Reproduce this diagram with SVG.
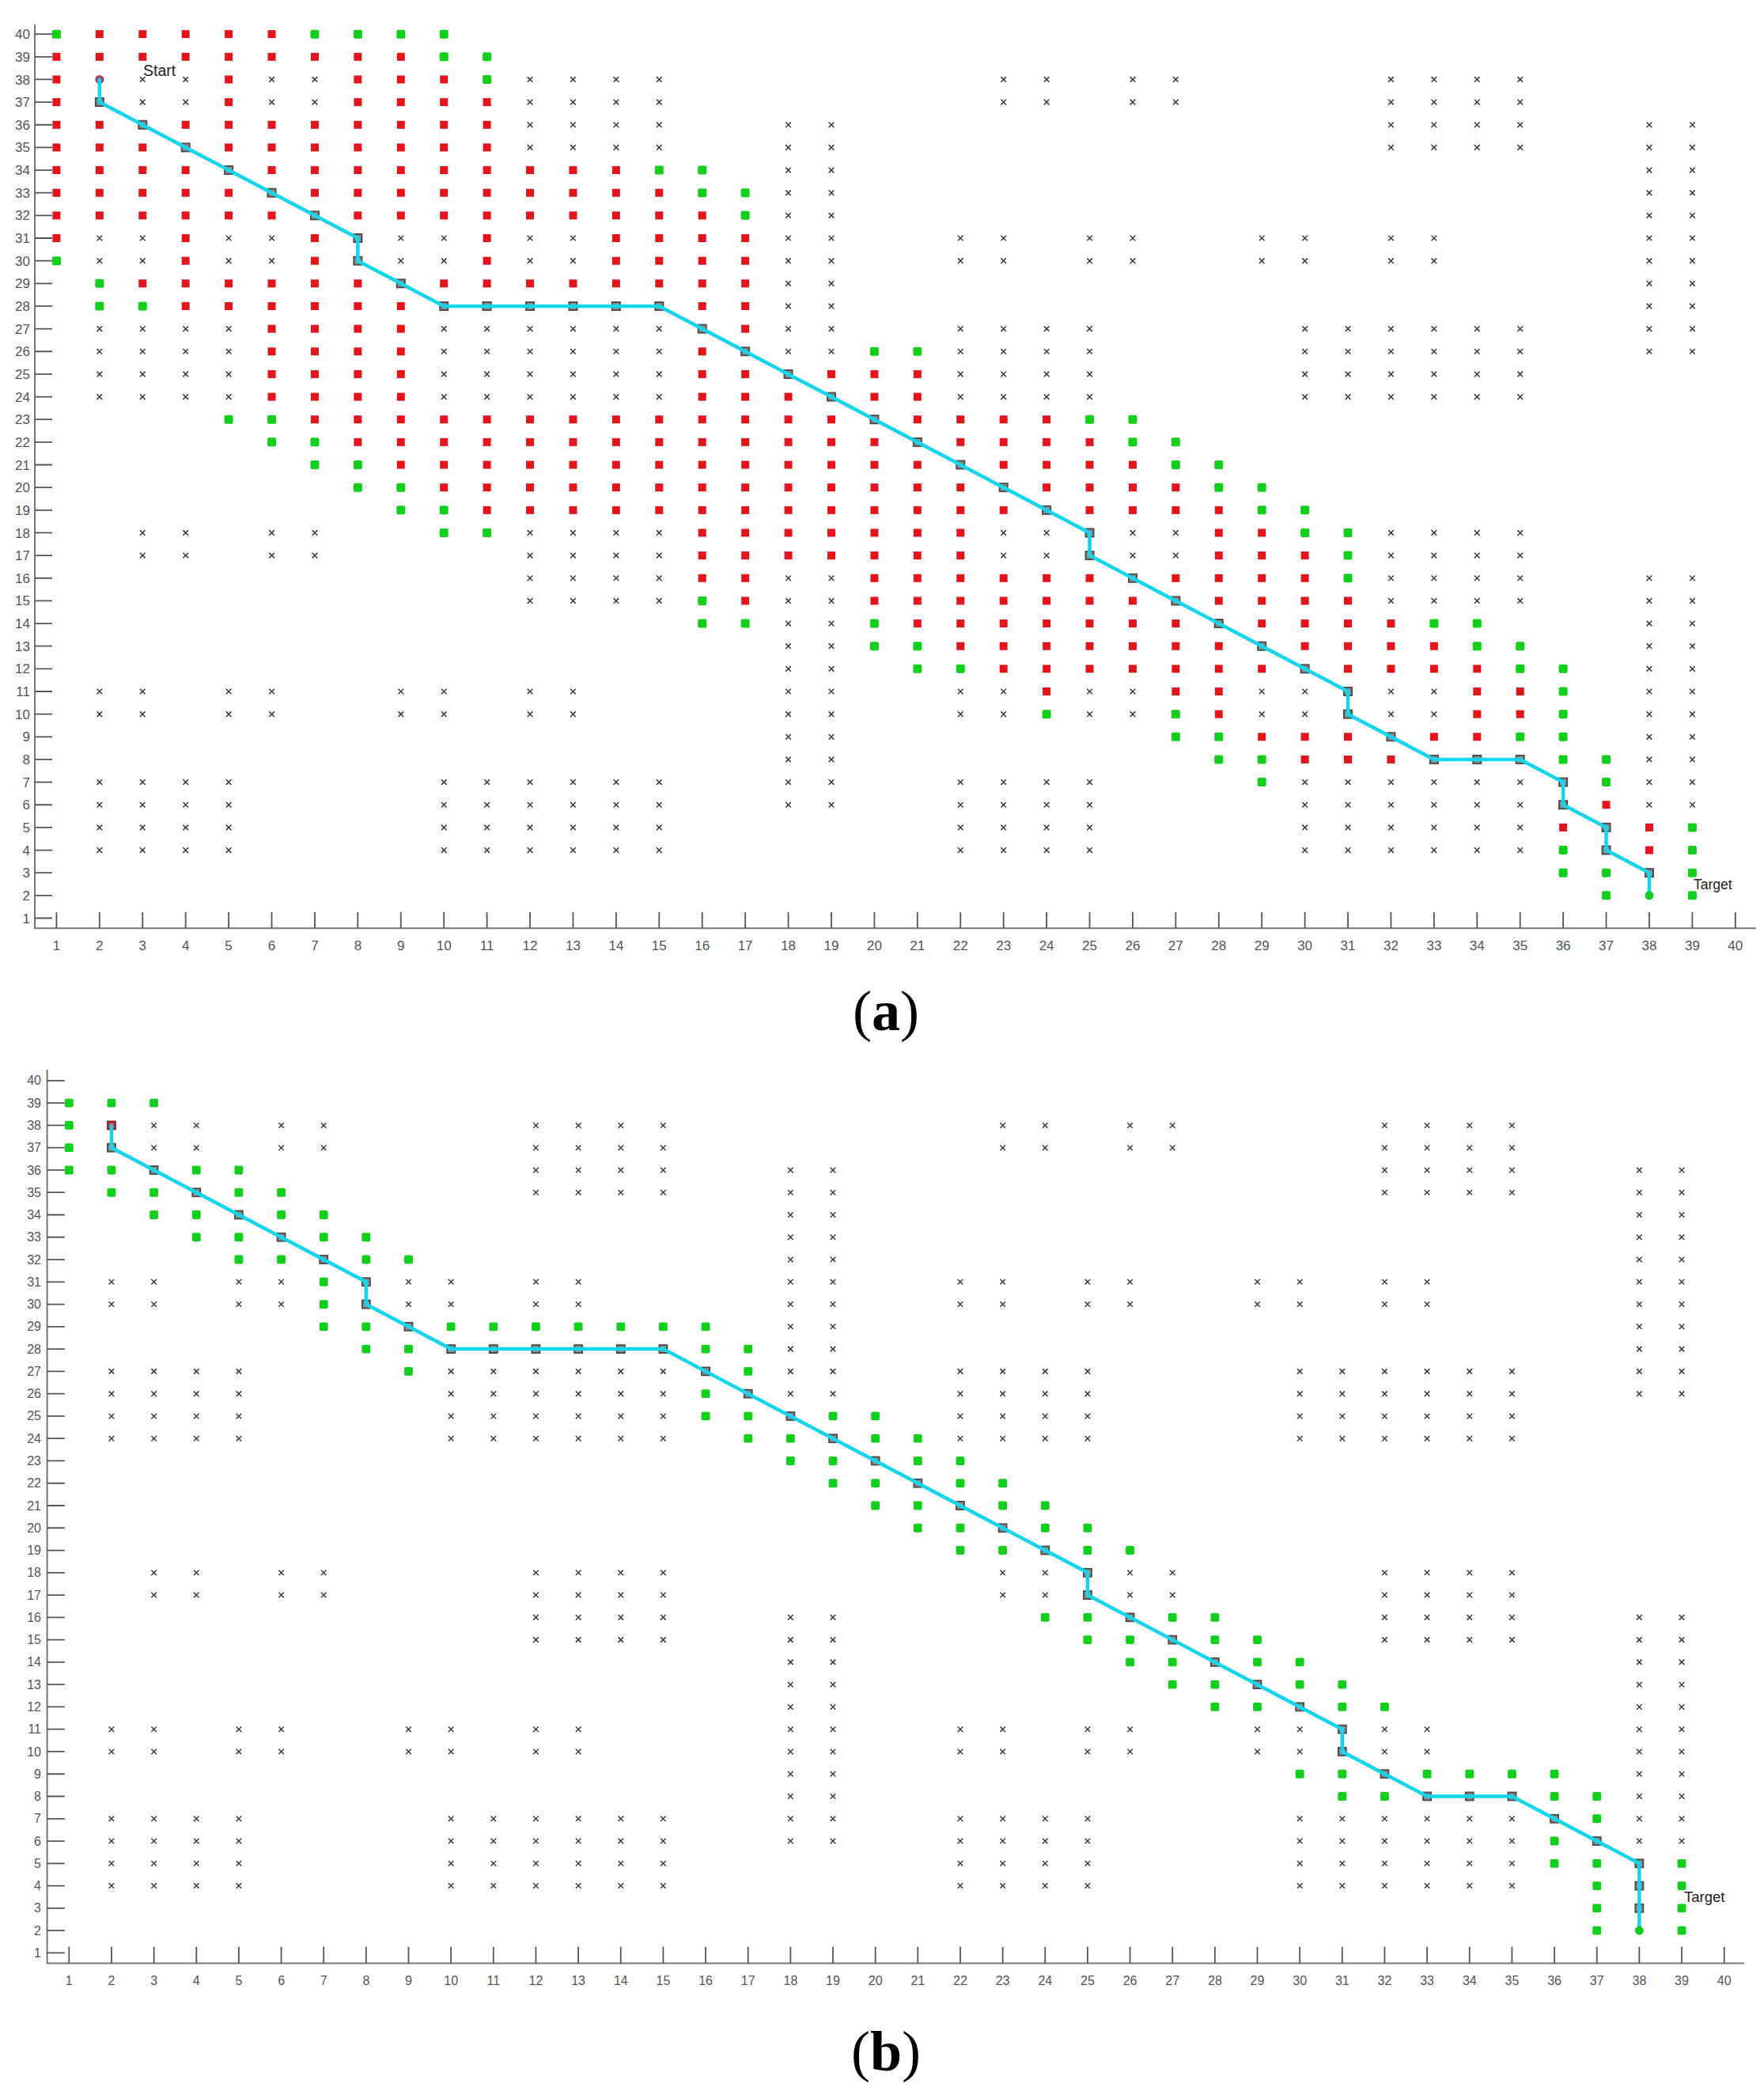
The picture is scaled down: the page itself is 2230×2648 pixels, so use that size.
<svg xmlns="http://www.w3.org/2000/svg" width="2230" height="2648" viewBox="0 0 2230 2648">
<style>
.tl{font-family:"Liberation Sans",Arial,sans-serif;font-size:17px;fill:#555}
.tlb{font-family:"Liberation Sans",Arial,sans-serif;font-size:16px;fill:#555}
.tx{text-anchor:middle}
.ty{text-anchor:end}
.ax{fill:none;stroke:#777;stroke-width:2}
.tk{fill:none;stroke:#555;stroke-width:1.8}
.route{fill:none;stroke:#13d6ec;stroke-width:4.5;stroke-linejoin:round;stroke-linecap:round}
.cap{font-family:"Liberation Serif","Times New Roman",serif;font-size:72px;fill:#000;text-anchor:middle}
.lbl{font-family:"Liberation Sans",Arial,sans-serif;fill:#222}
</style>
<defs>
<g id="R" transform="scale(0.018376,0.034904)"><rect x="-5" y="-5" width="10" height="10" fill="#e3151b"/></g>
<g id="G" transform="scale(0.018376,0.034904)"><rect x="-5.5" y="-5.5" width="11" height="11" rx="2" fill="#12cf1c"/></g>
<g id="X" transform="scale(0.018376,0.034904)"><path d="M-3.3-3.3L3.3 3.3M-3.3 3.3L3.3-3.3" stroke="#3c3c3c" stroke-width="1.5" fill="none"/></g>
<g id="P" transform="scale(0.018376,0.034904)"><rect x="-5" y="-5" width="10" height="10" fill="#8f8f8f" stroke="#4d4d4d" stroke-width="2"/></g>
<g id="S" transform="scale(0.018376,0.034904)"><circle r="5.5" fill="#a33a66"/></g>
<g id="S2" transform="scale(0.018376,0.034904)"><rect x="-5" y="-5" width="10" height="10" fill="#d8323c" stroke="#7a2a2a" stroke-width="2"/></g>
<g id="T" transform="scale(0.018376,0.034904)"><circle r="5.5" fill="#12cf1c"/></g>
<g id="oA"><use href="#X" x="3"/><use href="#X" x="4"/><use href="#X" x="6"/><use href="#X" x="7"/><use href="#X" x="12"/><use href="#X" x="13"/><use href="#X" x="14"/><use href="#X" x="15"/><use href="#X" x="23"/><use href="#X" x="24"/><use href="#X" x="26"/><use href="#X" x="27"/><use href="#X" x="32"/><use href="#X" x="33"/><use href="#X" x="34"/><use href="#X" x="35"/></g>
<g id="oB"><use href="#X" x="12"/><use href="#X" x="13"/><use href="#X" x="14"/><use href="#X" x="15"/><use href="#X" x="18"/><use href="#X" x="19"/><use href="#X" x="32"/><use href="#X" x="33"/><use href="#X" x="34"/><use href="#X" x="35"/><use href="#X" x="38"/><use href="#X" x="39"/></g>
<g id="oC"><use href="#X" x="18"/><use href="#X" x="19"/><use href="#X" x="38"/><use href="#X" x="39"/></g>
<g id="oD"><use href="#X" x="2"/><use href="#X" x="3"/><use href="#X" x="5"/><use href="#X" x="6"/><use href="#X" x="9"/><use href="#X" x="10"/><use href="#X" x="12"/><use href="#X" x="13"/><use href="#X" x="18"/><use href="#X" x="19"/><use href="#X" x="22"/><use href="#X" x="23"/><use href="#X" x="25"/><use href="#X" x="26"/><use href="#X" x="29"/><use href="#X" x="30"/><use href="#X" x="32"/><use href="#X" x="33"/><use href="#X" x="38"/><use href="#X" x="39"/></g>
<g id="oF"><use href="#X" x="2"/><use href="#X" x="3"/><use href="#X" x="4"/><use href="#X" x="5"/><use href="#X" x="10"/><use href="#X" x="11"/><use href="#X" x="12"/><use href="#X" x="13"/><use href="#X" x="14"/><use href="#X" x="15"/><use href="#X" x="22"/><use href="#X" x="23"/><use href="#X" x="24"/><use href="#X" x="25"/><use href="#X" x="30"/><use href="#X" x="31"/><use href="#X" x="32"/><use href="#X" x="33"/><use href="#X" x="34"/><use href="#X" x="35"/></g>
<g id="oE"><use href="#oF"/><use href="#X" x="18"/><use href="#X" x="19"/><use href="#X" x="38"/><use href="#X" x="39"/></g>
<g id="oHalf"><use href="#oA" y="38"/><use href="#oA" y="37"/><use href="#oB" y="36"/><use href="#oB" y="35"/><use href="#oC" y="34"/><use href="#oC" y="33"/><use href="#oC" y="32"/><use href="#oD" y="31"/><use href="#oD" y="30"/><use href="#oC" y="29"/><use href="#oC" y="28"/><use href="#oE" y="27"/><use href="#oE" y="26"/><use href="#oF" y="25"/><use href="#oF" y="24"/></g>
<g id="obs"><use href="#oHalf"/><use href="#oHalf" y="-20"/></g>
<g id="pn"><use href="#P" x="2" y="37"/><use href="#P" x="3" y="36"/><use href="#P" x="4" y="35"/><use href="#P" x="5" y="34"/><use href="#P" x="6" y="33"/><use href="#P" x="7" y="32"/><use href="#P" x="8" y="31"/><use href="#P" x="8" y="30"/><use href="#P" x="9" y="29"/><use href="#P" x="10" y="28"/><use href="#P" x="11" y="28"/><use href="#P" x="12" y="28"/><use href="#P" x="13" y="28"/><use href="#P" x="14" y="28"/><use href="#P" x="15" y="28"/><use href="#P" x="16" y="27"/><use href="#P" x="17" y="26"/><use href="#P" x="18" y="25"/><use href="#P" x="19" y="24"/><use href="#P" x="20" y="23"/><use href="#P" x="21" y="22"/><use href="#P" x="22" y="21"/><use href="#P" x="23" y="20"/><use href="#P" x="24" y="19"/><use href="#P" x="25" y="18"/><use href="#P" x="25" y="17"/><use href="#P" x="26" y="16"/><use href="#P" x="27" y="15"/><use href="#P" x="28" y="14"/><use href="#P" x="29" y="13"/><use href="#P" x="30" y="12"/><use href="#P" x="31" y="11"/><use href="#P" x="31" y="10"/><use href="#P" x="32" y="9"/><use href="#P" x="33" y="8"/><use href="#P" x="34" y="8"/><use href="#P" x="35" y="8"/><use href="#P" x="36" y="7"/></g>
</defs>
<rect width="2230" height="2648" fill="#fff"/>

<!-- Panel (a) -->
<g id="panel-a">
<path class="ax" d="M44 31V1173.3H2220"/>
<g transform="matrix(54.42 0 0 -28.65 17 1189.15)">
<path class="tk" vector-effect="non-scaling-stroke" d="M.496 1H.9M.496 2H.9M.496 3H.9M.496 4H.9M.496 5H.9M.496 6H.9M.496 7H.9M.496 8H.9M.496 9H.9M.496 10H.9M.496 11H.9M.496 12H.9M.496 13H.9M.496 14H.9M.496 15H.9M.496 16H.9M.496 17H.9M.496 18H.9M.496 19H.9M.496 20H.9M.496 21H.9M.496 22H.9M.496 23H.9M.496 24H.9M.496 25H.9M.496 26H.9M.496 27H.9M.496 28H.9M.496 29H.9M.496 30H.9M.496 31H.9M.496 32H.9M.496 33H.9M.496 34H.9M.496 35H.9M.496 36H.9M.496 37H.9M.496 38H.9M.496 39H.9M.496 40H.9M1 .553V1.262M2 .553V1.262M3 .553V1.262M4 .553V1.262M5 .553V1.262M6 .553V1.262M7 .553V1.262M8 .553V1.262M9 .553V1.262M10 .553V1.262M11 .553V1.262M12 .553V1.262M13 .553V1.262M14 .553V1.262M15 .553V1.262M16 .553V1.262M17 .553V1.262M18 .553V1.262M19 .553V1.262M20 .553V1.262M21 .553V1.262M22 .553V1.262M23 .553V1.262M24 .553V1.262M25 .553V1.262M26 .553V1.262M27 .553V1.262M28 .553V1.262M29 .553V1.262M30 .553V1.262M31 .553V1.262M32 .553V1.262M33 .553V1.262M34 .553V1.262M35 .553V1.262M36 .553V1.262M37 .553V1.262M38 .553V1.262M39 .553V1.262M40 .553V1.262"/>
<use href="#obs"/>
<g id="sets-a">
<g transform="translate(0 40)"><use href="#G" x="1"/><use href="#R" x="2"/><use href="#R" x="3"/><use href="#R" x="4"/><use href="#R" x="5"/><use href="#R" x="6"/><use href="#G" x="7"/><use href="#G" x="8"/><use href="#G" x="9"/><use href="#G" x="10"/></g>
<g transform="translate(0 39)"><use href="#R" x="1"/><use href="#R" x="2"/><use href="#R" x="3"/><use href="#R" x="4"/><use href="#R" x="5"/><use href="#R" x="6"/><use href="#R" x="7"/><use href="#R" x="8"/><use href="#R" x="9"/><use href="#G" x="10"/><use href="#G" x="11"/></g>
<g transform="translate(0 38)"><use href="#R" x="1"/><use href="#R" x="5"/><use href="#R" x="8"/><use href="#R" x="9"/><use href="#R" x="10"/><use href="#G" x="11"/></g>
<g transform="translate(0 37)"><use href="#R" x="1"/><use href="#R" x="5"/><use href="#R" x="8"/><use href="#R" x="9"/><use href="#R" x="10"/><use href="#R" x="11"/></g>
<g transform="translate(0 36)"><use href="#R" x="1"/><use href="#R" x="2"/><use href="#R" x="4"/><use href="#R" x="5"/><use href="#R" x="6"/><use href="#R" x="7"/><use href="#R" x="8"/><use href="#R" x="9"/><use href="#R" x="10"/><use href="#R" x="11"/></g>
<g transform="translate(0 35)"><use href="#R" x="1"/><use href="#R" x="2"/><use href="#R" x="3"/><use href="#R" x="5"/><use href="#R" x="6"/><use href="#R" x="7"/><use href="#R" x="8"/><use href="#R" x="9"/><use href="#R" x="10"/><use href="#R" x="11"/></g>
<g transform="translate(0 34)"><use href="#R" x="1"/><use href="#R" x="2"/><use href="#R" x="3"/><use href="#R" x="4"/><use href="#R" x="6"/><use href="#R" x="7"/><use href="#R" x="8"/><use href="#R" x="9"/><use href="#R" x="10"/><use href="#R" x="11"/><use href="#R" x="12"/><use href="#R" x="13"/><use href="#R" x="14"/><use href="#G" x="15"/><use href="#G" x="16"/></g>
<g transform="translate(0 33)"><use href="#R" x="1"/><use href="#R" x="2"/><use href="#R" x="3"/><use href="#R" x="4"/><use href="#R" x="5"/><use href="#R" x="7"/><use href="#R" x="8"/><use href="#R" x="9"/><use href="#R" x="10"/><use href="#R" x="11"/><use href="#R" x="12"/><use href="#R" x="13"/><use href="#R" x="14"/><use href="#R" x="15"/><use href="#G" x="16"/><use href="#G" x="17"/></g>
<g transform="translate(0 32)"><use href="#R" x="1"/><use href="#R" x="2"/><use href="#R" x="3"/><use href="#R" x="4"/><use href="#R" x="5"/><use href="#R" x="6"/><use href="#R" x="8"/><use href="#R" x="9"/><use href="#R" x="10"/><use href="#R" x="11"/><use href="#R" x="12"/><use href="#R" x="13"/><use href="#R" x="14"/><use href="#R" x="15"/><use href="#R" x="16"/><use href="#G" x="17"/></g>
<g transform="translate(0 31)"><use href="#R" x="1"/><use href="#R" x="4"/><use href="#R" x="7"/><use href="#R" x="11"/><use href="#R" x="14"/><use href="#R" x="15"/><use href="#R" x="16"/><use href="#R" x="17"/></g>
<g transform="translate(0 30)"><use href="#G" x="1"/><use href="#R" x="4"/><use href="#R" x="7"/><use href="#R" x="11"/><use href="#R" x="14"/><use href="#R" x="15"/><use href="#R" x="16"/><use href="#R" x="17"/></g>
<g transform="translate(0 29)"><use href="#G" x="2"/><use href="#R" x="3"/><use href="#R" x="4"/><use href="#R" x="5"/><use href="#R" x="6"/><use href="#R" x="7"/><use href="#R" x="8"/><use href="#R" x="10"/><use href="#R" x="11"/><use href="#R" x="12"/><use href="#R" x="13"/><use href="#R" x="14"/><use href="#R" x="15"/><use href="#R" x="16"/><use href="#R" x="17"/></g>
<g transform="translate(0 28)"><use href="#G" x="2"/><use href="#G" x="3"/><use href="#R" x="4"/><use href="#R" x="5"/><use href="#R" x="6"/><use href="#R" x="7"/><use href="#R" x="8"/><use href="#R" x="9"/><use href="#R" x="16"/><use href="#R" x="17"/></g>
<g transform="translate(0 27)"><use href="#R" x="6"/><use href="#R" x="7"/><use href="#R" x="8"/><use href="#R" x="9"/><use href="#R" x="17"/></g>
<g transform="translate(0 26)"><use href="#R" x="6"/><use href="#R" x="7"/><use href="#R" x="8"/><use href="#R" x="9"/><use href="#R" x="16"/><use href="#G" x="20"/><use href="#G" x="21"/></g>
<g transform="translate(0 25)"><use href="#R" x="6"/><use href="#R" x="7"/><use href="#R" x="8"/><use href="#R" x="9"/><use href="#R" x="16"/><use href="#R" x="17"/><use href="#R" x="19"/><use href="#R" x="20"/><use href="#R" x="21"/></g>
<g transform="translate(0 24)"><use href="#R" x="6"/><use href="#R" x="7"/><use href="#R" x="8"/><use href="#R" x="9"/><use href="#R" x="16"/><use href="#R" x="17"/><use href="#R" x="18"/><use href="#R" x="20"/><use href="#R" x="21"/></g>
<g transform="translate(0 23)"><use href="#G" x="5"/><use href="#G" x="6"/><use href="#R" x="7"/><use href="#R" x="8"/><use href="#R" x="9"/><use href="#R" x="10"/><use href="#R" x="11"/><use href="#R" x="12"/><use href="#R" x="13"/><use href="#R" x="14"/><use href="#R" x="15"/><use href="#R" x="16"/><use href="#R" x="17"/><use href="#R" x="18"/><use href="#R" x="19"/><use href="#R" x="21"/><use href="#R" x="22"/><use href="#R" x="23"/><use href="#R" x="24"/><use href="#G" x="25"/><use href="#G" x="26"/></g>
<g transform="translate(0 22)"><use href="#G" x="6"/><use href="#G" x="7"/><use href="#R" x="8"/><use href="#R" x="9"/><use href="#R" x="10"/><use href="#R" x="11"/><use href="#R" x="12"/><use href="#R" x="13"/><use href="#R" x="14"/><use href="#R" x="15"/><use href="#R" x="16"/><use href="#R" x="17"/><use href="#R" x="18"/><use href="#R" x="19"/><use href="#R" x="20"/><use href="#R" x="22"/><use href="#R" x="23"/><use href="#R" x="24"/><use href="#R" x="25"/><use href="#G" x="26"/><use href="#G" x="27"/></g>
<g transform="translate(0 21)"><use href="#G" x="7"/><use href="#G" x="8"/><use href="#R" x="9"/><use href="#R" x="10"/><use href="#R" x="11"/><use href="#R" x="12"/><use href="#R" x="13"/><use href="#R" x="14"/><use href="#R" x="15"/><use href="#R" x="16"/><use href="#R" x="17"/><use href="#R" x="18"/><use href="#R" x="19"/><use href="#R" x="20"/><use href="#R" x="21"/><use href="#R" x="23"/><use href="#R" x="24"/><use href="#R" x="25"/><use href="#R" x="26"/><use href="#G" x="27"/><use href="#G" x="28"/></g>
<g transform="translate(0 20)"><use href="#G" x="8"/><use href="#G" x="9"/><use href="#R" x="10"/><use href="#R" x="11"/><use href="#R" x="12"/><use href="#R" x="13"/><use href="#R" x="14"/><use href="#R" x="15"/><use href="#R" x="16"/><use href="#R" x="17"/><use href="#R" x="18"/><use href="#R" x="19"/><use href="#R" x="20"/><use href="#R" x="21"/><use href="#R" x="22"/><use href="#R" x="24"/><use href="#R" x="25"/><use href="#R" x="26"/><use href="#R" x="27"/><use href="#G" x="28"/><use href="#G" x="29"/></g>
<g transform="translate(0 19)"><use href="#G" x="9"/><use href="#G" x="10"/><use href="#R" x="11"/><use href="#R" x="12"/><use href="#R" x="13"/><use href="#R" x="14"/><use href="#R" x="15"/><use href="#R" x="16"/><use href="#R" x="17"/><use href="#R" x="18"/><use href="#R" x="19"/><use href="#R" x="20"/><use href="#R" x="21"/><use href="#R" x="22"/><use href="#R" x="23"/><use href="#R" x="25"/><use href="#R" x="26"/><use href="#R" x="27"/><use href="#R" x="28"/><use href="#G" x="29"/><use href="#G" x="30"/></g>
<g transform="translate(0 18)"><use href="#G" x="10"/><use href="#G" x="11"/><use href="#R" x="16"/><use href="#R" x="17"/><use href="#R" x="18"/><use href="#R" x="19"/><use href="#R" x="20"/><use href="#R" x="21"/><use href="#R" x="22"/><use href="#R" x="28"/><use href="#R" x="29"/><use href="#G" x="30"/><use href="#G" x="31"/></g>
<g transform="translate(0 17)"><use href="#R" x="16"/><use href="#R" x="17"/><use href="#R" x="18"/><use href="#R" x="19"/><use href="#R" x="20"/><use href="#R" x="21"/><use href="#R" x="22"/><use href="#R" x="28"/><use href="#R" x="29"/><use href="#R" x="30"/><use href="#G" x="31"/></g>
<g transform="translate(0 16)"><use href="#R" x="16"/><use href="#R" x="17"/><use href="#R" x="20"/><use href="#R" x="21"/><use href="#R" x="22"/><use href="#R" x="23"/><use href="#R" x="24"/><use href="#R" x="25"/><use href="#R" x="27"/><use href="#R" x="28"/><use href="#R" x="29"/><use href="#R" x="30"/><use href="#G" x="31"/></g>
<g transform="translate(0 15)"><use href="#G" x="16"/><use href="#R" x="17"/><use href="#R" x="20"/><use href="#R" x="21"/><use href="#R" x="22"/><use href="#R" x="23"/><use href="#R" x="24"/><use href="#R" x="25"/><use href="#R" x="26"/><use href="#R" x="28"/><use href="#R" x="29"/><use href="#R" x="30"/><use href="#R" x="31"/></g>
<g transform="translate(0 14)"><use href="#G" x="16"/><use href="#G" x="17"/><use href="#G" x="20"/><use href="#R" x="21"/><use href="#R" x="22"/><use href="#R" x="23"/><use href="#R" x="24"/><use href="#R" x="25"/><use href="#R" x="26"/><use href="#R" x="27"/><use href="#R" x="29"/><use href="#R" x="30"/><use href="#R" x="31"/><use href="#R" x="32"/><use href="#G" x="33"/><use href="#G" x="34"/></g>
<g transform="translate(0 13)"><use href="#G" x="20"/><use href="#G" x="21"/><use href="#R" x="22"/><use href="#R" x="23"/><use href="#R" x="24"/><use href="#R" x="25"/><use href="#R" x="26"/><use href="#R" x="27"/><use href="#R" x="28"/><use href="#R" x="30"/><use href="#R" x="31"/><use href="#R" x="32"/><use href="#R" x="33"/><use href="#G" x="34"/><use href="#G" x="35"/></g>
<g transform="translate(0 12)"><use href="#G" x="21"/><use href="#G" x="22"/><use href="#R" x="23"/><use href="#R" x="24"/><use href="#R" x="25"/><use href="#R" x="26"/><use href="#R" x="27"/><use href="#R" x="28"/><use href="#R" x="29"/><use href="#R" x="31"/><use href="#R" x="32"/><use href="#R" x="33"/><use href="#R" x="34"/><use href="#G" x="35"/><use href="#G" x="36"/></g>
<g transform="translate(0 11)"><use href="#R" x="24"/><use href="#R" x="27"/><use href="#R" x="28"/><use href="#R" x="34"/><use href="#R" x="35"/><use href="#G" x="36"/></g>
<g transform="translate(0 10)"><use href="#G" x="24"/><use href="#G" x="27"/><use href="#R" x="28"/><use href="#R" x="34"/><use href="#R" x="35"/><use href="#G" x="36"/></g>
<g transform="translate(0 9)"><use href="#G" x="27"/><use href="#G" x="28"/><use href="#R" x="29"/><use href="#R" x="30"/><use href="#R" x="31"/><use href="#R" x="33"/><use href="#R" x="34"/><use href="#G" x="35"/><use href="#G" x="36"/></g>
<g transform="translate(0 8)"><use href="#G" x="28"/><use href="#G" x="29"/><use href="#R" x="30"/><use href="#R" x="31"/><use href="#R" x="32"/><use href="#G" x="36"/><use href="#G" x="37"/></g>
<g transform="translate(0 7)"><use href="#G" x="29"/><use href="#G" x="37"/></g>
<g transform="translate(0 6)"><use href="#R" x="37"/></g>
<g transform="translate(0 5)"><use href="#R" x="36"/><use href="#R" x="38"/><use href="#G" x="39"/></g>
<g transform="translate(0 4)"><use href="#G" x="36"/><use href="#R" x="38"/><use href="#G" x="39"/></g>
<g transform="translate(0 3)"><use href="#G" x="36"/><use href="#G" x="37"/><use href="#G" x="39"/></g>
<g transform="translate(0 2)"><use href="#G" x="37"/><use href="#G" x="39"/></g>
</g>
<g id="path-a">
<use href="#pn"/><use href="#P" x="36" y="6"/><use href="#P" x="37" y="5"/><use href="#P" x="37" y="4"/><use href="#P" x="38" y="3"/>
<use href="#S" x="2" y="38"/>
<polyline class="route" vector-effect="non-scaling-stroke" points="2,38 2,37 3,36 4,35 5,34 6,33 7,32 8,31 8,30 9,29 10,28 15,28 16,27 17,26 18,25 19,24 20,23 21,22 22,21 23,20 24,19 25,18 25,17 26,16 27,15 28,14 29,13 30,12 31,11 31,10 32,9 33,8 35,8 36,7 36,6 37,5 37,4 38,3 38,2"/>
<use href="#T" x="38" y="2"/>
</g>
</g>
<text class="lbl" x="181" y="96" font-size="19.5">Start</text>
<text class="lbl" x="2141" y="1124" font-size="17.5">Target</text>
<g class="tl tx">
<text x="71.4" y="1201">1</text><text x="125.8" y="1201">2</text><text x="180.2" y="1201">3</text><text x="234.7" y="1201">4</text><text x="289.1" y="1201">5</text><text x="343.5" y="1201">6</text><text x="397.9" y="1201">7</text><text x="452.4" y="1201">8</text><text x="506.8" y="1201">9</text><text x="561.2" y="1201">10</text><text x="615.6" y="1201">11</text><text x="670" y="1201">12</text><text x="724.5" y="1201">13</text><text x="778.9" y="1201">14</text><text x="833.3" y="1201">15</text><text x="887.7" y="1201">16</text><text x="942.1" y="1201">17</text><text x="996.6" y="1201">18</text><text x="1051" y="1201">19</text><text x="1105.4" y="1201">20</text><text x="1159.8" y="1201">21</text><text x="1214.2" y="1201">22</text><text x="1268.7" y="1201">23</text><text x="1323.1" y="1201">24</text><text x="1377.5" y="1201">25</text><text x="1431.9" y="1201">26</text><text x="1486.3" y="1201">27</text><text x="1540.8" y="1201">28</text><text x="1595.2" y="1201">29</text><text x="1649.6" y="1201">30</text><text x="1704" y="1201">31</text><text x="1758.4" y="1201">32</text><text x="1812.9" y="1201">33</text><text x="1867.3" y="1201">34</text><text x="1921.7" y="1201">35</text><text x="1976.1" y="1201">36</text><text x="2030.5" y="1201">37</text><text x="2085" y="1201">38</text><text x="2139.4" y="1201">39</text><text x="2193.8" y="1201">40</text>
</g>
<g class="tl ty">
<text x="38" y="1166.5">1</text><text x="38" y="1137.9">2</text><text x="38" y="1109.2">3</text><text x="38" y="1080.6">4</text><text x="38" y="1051.9">5</text><text x="38" y="1023.3">6</text><text x="38" y="994.6">7</text><text x="38" y="966">8</text><text x="38" y="937.3">9</text><text x="38" y="908.7">10</text><text x="38" y="880">11</text><text x="38" y="851.4">12</text><text x="38" y="822.7">13</text><text x="38" y="794.1">14</text><text x="38" y="765.4">15</text><text x="38" y="736.8">16</text><text x="38" y="708.1">17</text><text x="38" y="679.5">18</text><text x="38" y="650.8">19</text><text x="38" y="622.2">20</text><text x="38" y="593.5">21</text><text x="38" y="564.9">22</text><text x="38" y="536.2">23</text><text x="38" y="507.6">24</text><text x="38" y="478.9">25</text><text x="38" y="450.3">26</text><text x="38" y="421.6">27</text><text x="38" y="393">28</text><text x="38" y="364.3">29</text><text x="38" y="335.7">30</text><text x="38" y="307">31</text><text x="38" y="278.4">32</text><text x="38" y="249.7">33</text><text x="38" y="221.1">34</text><text x="38" y="192.4">35</text><text x="38" y="163.8">36</text><text x="38" y="135.1">37</text><text x="38" y="106.5">38</text><text x="38" y="77.8">39</text><text x="38" y="49.2">40</text>
</g>
<text class="cap" x="1120" y="1302">(<tspan font-weight="bold">a</tspan>)</text>
</g>

<!-- Panel (b) -->
<g id="panel-b">
<path class="ax" d="M59.6 1352V2481.6H2205"/>
<g transform="matrix(53.65 0 0 -28.27 33.65 2496.67)">
<path class="tk" vector-effect="non-scaling-stroke" d="M.484 1H.898M.484 2H.898M.484 3H.898M.484 4H.898M.484 5H.898M.484 6H.898M.484 7H.898M.484 8H.898M.484 9H.898M.484 10H.898M.484 11H.898M.484 12H.898M.484 13H.898M.484 14H.898M.484 15H.898M.484 16H.898M.484 17H.898M.484 18H.898M.484 19H.898M.484 20H.898M.484 21H.898M.484 22H.898M.484 23H.898M.484 24H.898M.484 25H.898M.484 26H.898M.484 27H.898M.484 28H.898M.484 29H.898M.484 30H.898M.484 31H.898M.484 32H.898M.484 33H.898M.484 34H.898M.484 35H.898M.484 36H.898M.484 37H.898M.484 38H.898M.484 39H.898M.484 40H.898M1 .533V1.274M2 .533V1.274M3 .533V1.274M4 .533V1.274M5 .533V1.274M6 .533V1.274M7 .533V1.274M8 .533V1.274M9 .533V1.274M10 .533V1.274M11 .533V1.274M12 .533V1.274M13 .533V1.274M14 .533V1.274M15 .533V1.274M16 .533V1.274M17 .533V1.274M18 .533V1.274M19 .533V1.274M20 .533V1.274M21 .533V1.274M22 .533V1.274M23 .533V1.274M24 .533V1.274M25 .533V1.274M26 .533V1.274M27 .533V1.274M28 .533V1.274M29 .533V1.274M30 .533V1.274M31 .533V1.274M32 .533V1.274M33 .533V1.274M34 .533V1.274M35 .533V1.274M36 .533V1.274M37 .533V1.274M38 .533V1.274M39 .533V1.274M40 .533V1.274"/>
<use href="#obs"/>
<g id="sets-b">
<g transform="translate(0 39)"><use href="#G" x="1"/><use href="#G" x="2"/><use href="#G" x="3"/></g>
<g transform="translate(0 38)"><use href="#G" x="1"/></g>
<g transform="translate(0 37)"><use href="#G" x="1"/></g>
<g transform="translate(0 36)"><use href="#G" x="1"/><use href="#G" x="2"/><use href="#G" x="4"/><use href="#G" x="5"/></g>
<g transform="translate(0 35)"><use href="#G" x="2"/><use href="#G" x="3"/><use href="#G" x="5"/><use href="#G" x="6"/></g>
<g transform="translate(0 34)"><use href="#G" x="3"/><use href="#G" x="4"/><use href="#G" x="6"/><use href="#G" x="7"/></g>
<g transform="translate(0 33)"><use href="#G" x="4"/><use href="#G" x="5"/><use href="#G" x="7"/><use href="#G" x="8"/></g>
<g transform="translate(0 32)"><use href="#G" x="5"/><use href="#G" x="6"/><use href="#G" x="8"/><use href="#G" x="9"/></g>
<g transform="translate(0 31)"><use href="#G" x="7"/></g>
<g transform="translate(0 30)"><use href="#G" x="7"/></g>
<g transform="translate(0 29)"><use href="#G" x="7"/><use href="#G" x="8"/><use href="#G" x="10"/><use href="#G" x="11"/><use href="#G" x="12"/><use href="#G" x="13"/><use href="#G" x="14"/><use href="#G" x="15"/><use href="#G" x="16"/></g>
<g transform="translate(0 28)"><use href="#G" x="8"/><use href="#G" x="9"/><use href="#G" x="16"/><use href="#G" x="17"/></g>
<g transform="translate(0 27)"><use href="#G" x="9"/><use href="#G" x="17"/></g>
<g transform="translate(0 26)"><use href="#G" x="16"/></g>
<g transform="translate(0 25)"><use href="#G" x="16"/><use href="#G" x="17"/><use href="#G" x="19"/><use href="#G" x="20"/></g>
<g transform="translate(0 24)"><use href="#G" x="17"/><use href="#G" x="18"/><use href="#G" x="20"/><use href="#G" x="21"/></g>
<g transform="translate(0 23)"><use href="#G" x="18"/><use href="#G" x="19"/><use href="#G" x="21"/><use href="#G" x="22"/></g>
<g transform="translate(0 22)"><use href="#G" x="19"/><use href="#G" x="20"/><use href="#G" x="22"/><use href="#G" x="23"/></g>
<g transform="translate(0 21)"><use href="#G" x="20"/><use href="#G" x="21"/><use href="#G" x="23"/><use href="#G" x="24"/></g>
<g transform="translate(0 20)"><use href="#G" x="21"/><use href="#G" x="22"/><use href="#G" x="24"/><use href="#G" x="25"/></g>
<g transform="translate(0 19)"><use href="#G" x="22"/><use href="#G" x="23"/><use href="#G" x="25"/><use href="#G" x="26"/></g>
<g transform="translate(0 16)"><use href="#G" x="24"/><use href="#G" x="25"/><use href="#G" x="27"/><use href="#G" x="28"/></g>
<g transform="translate(0 15)"><use href="#G" x="25"/><use href="#G" x="26"/><use href="#G" x="28"/><use href="#G" x="29"/></g>
<g transform="translate(0 14)"><use href="#G" x="26"/><use href="#G" x="27"/><use href="#G" x="29"/><use href="#G" x="30"/></g>
<g transform="translate(0 13)"><use href="#G" x="27"/><use href="#G" x="28"/><use href="#G" x="30"/><use href="#G" x="31"/></g>
<g transform="translate(0 12)"><use href="#G" x="28"/><use href="#G" x="29"/><use href="#G" x="31"/><use href="#G" x="32"/></g>
<g transform="translate(0 9)"><use href="#G" x="30"/><use href="#G" x="31"/><use href="#G" x="33"/><use href="#G" x="34"/><use href="#G" x="35"/><use href="#G" x="36"/></g>
<g transform="translate(0 8)"><use href="#G" x="31"/><use href="#G" x="32"/><use href="#G" x="36"/><use href="#G" x="37"/></g>
<g transform="translate(0 7)"><use href="#G" x="37"/></g>
<g transform="translate(0 6)"><use href="#G" x="36"/></g>
<g transform="translate(0 5)"><use href="#G" x="36"/><use href="#G" x="37"/><use href="#G" x="39"/></g>
<g transform="translate(0 4)"><use href="#G" x="37"/><use href="#G" x="39"/></g>
<g transform="translate(0 3)"><use href="#G" x="37"/><use href="#G" x="39"/></g>
<g transform="translate(0 2)"><use href="#G" x="37"/><use href="#G" x="39"/></g>
</g>
<g id="path-b">
<use href="#pn"/><use href="#P" x="37" y="6"/><use href="#P" x="38" y="5"/><use href="#P" x="38" y="4"/><use href="#P" x="38" y="3"/>
<use href="#S2" x="2" y="38"/>
<polyline class="route" vector-effect="non-scaling-stroke" points="2,38 2,37 3,36 4,35 5,34 6,33 7,32 8,31 8,30 9,29 10,28 15,28 16,27 17,26 18,25 19,24 20,23 21,22 22,21 23,20 24,19 25,18 25,17 26,16 27,15 28,14 29,13 30,12 31,11 31,10 32,9 33,8 35,8 36,7 37,6 38,5 38,2"/>
<use href="#T" x="38" y="2"/>
</g>
</g>
<text class="lbl" x="2129" y="2404" font-size="18.5">Target</text>
<g class="tlb tx">
<text x="87.3" y="2509">1</text><text x="141" y="2509">2</text><text x="194.6" y="2509">3</text><text x="248.3" y="2509">4</text><text x="301.9" y="2509">5</text><text x="355.6" y="2509">6</text><text x="409.2" y="2509">7</text><text x="462.9" y="2509">8</text><text x="516.5" y="2509">9</text><text x="570.2" y="2509">10</text><text x="623.8" y="2509">11</text><text x="677.5" y="2509">12</text><text x="731.1" y="2509">13</text><text x="784.8" y="2509">14</text><text x="838.4" y="2509">15</text><text x="892.1" y="2509">16</text><text x="945.7" y="2509">17</text><text x="999.4" y="2509">18</text><text x="1053" y="2509">19</text><text x="1106.7" y="2509">20</text><text x="1160.3" y="2509">21</text><text x="1214" y="2509">22</text><text x="1267.6" y="2509">23</text><text x="1321.3" y="2509">24</text><text x="1374.9" y="2509">25</text><text x="1428.6" y="2509">26</text><text x="1482.2" y="2509">27</text><text x="1535.9" y="2509">28</text><text x="1589.5" y="2509">29</text><text x="1643.2" y="2509">30</text><text x="1696.8" y="2509">31</text><text x="1750.5" y="2509">32</text><text x="1804.1" y="2509">33</text><text x="1857.8" y="2509">34</text><text x="1911.4" y="2509">35</text><text x="1965.1" y="2509">36</text><text x="2018.7" y="2509">37</text><text x="2072.4" y="2509">38</text><text x="2126" y="2509">39</text><text x="2179.7" y="2509">40</text>
</g>
<g class="tlb ty">
<text x="52" y="2473.9">1</text><text x="52" y="2445.6">2</text><text x="52" y="2417.4">3</text><text x="52" y="2389.1">4</text><text x="52" y="2360.8">5</text><text x="52" y="2332.6">6</text><text x="52" y="2304.3">7</text><text x="52" y="2276">8</text><text x="52" y="2247.7">9</text><text x="52" y="2219.5">10</text><text x="52" y="2191.2">11</text><text x="52" y="2162.9">12</text><text x="52" y="2134.7">13</text><text x="52" y="2106.4">14</text><text x="52" y="2078.1">15</text><text x="52" y="2049.9">16</text><text x="52" y="2021.6">17</text><text x="52" y="1993.3">18</text><text x="52" y="1965">19</text><text x="52" y="1936.8">20</text><text x="52" y="1908.5">21</text><text x="52" y="1880.2">22</text><text x="52" y="1852">23</text><text x="52" y="1823.7">24</text><text x="52" y="1795.4">25</text><text x="52" y="1767.2">26</text><text x="52" y="1738.9">27</text><text x="52" y="1710.6">28</text><text x="52" y="1682.3">29</text><text x="52" y="1654.1">30</text><text x="52" y="1625.8">31</text><text x="52" y="1597.5">32</text><text x="52" y="1569.3">33</text><text x="52" y="1541">34</text><text x="52" y="1512.7">35</text><text x="52" y="1484.5">36</text><text x="52" y="1456.2">37</text><text x="52" y="1427.9">38</text><text x="52" y="1399.6">39</text><text x="52" y="1371.4">40</text>
</g>
<text class="cap" x="1120" y="2617">(<tspan font-weight="bold">b</tspan>)</text>
</g>
</svg>
